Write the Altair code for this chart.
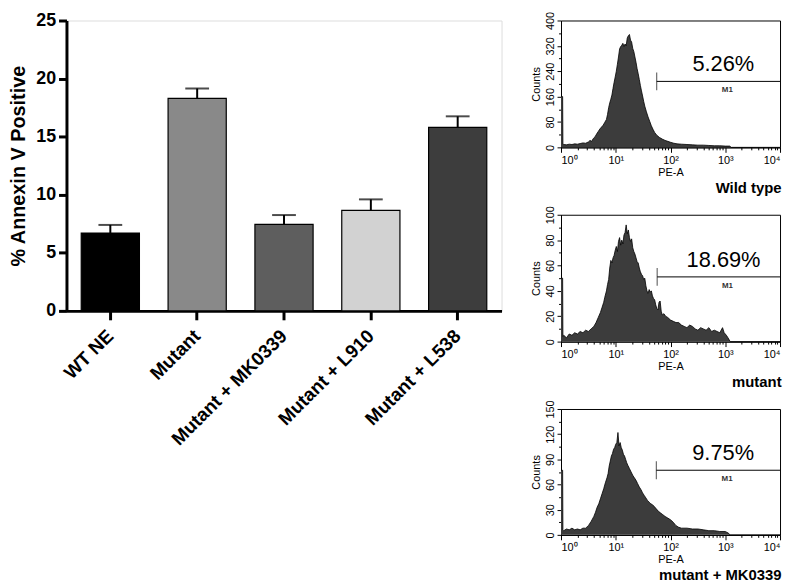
import altair as alt
import pandas as pd

FONT = "Liberation Sans"

# ---------------- Bar chart data ----------------
groups = ["WT NE", "Mutant", "Mutant + MK0339", "Mutant + L910", "Mutant + L538"]
means = [6.7, 18.3, 7.45, 8.65, 15.8]
sems = [0.7, 0.85, 0.8, 0.95, 0.95]
bar_colors = ["#000000", "#898989", "#5e5e5e", "#d2d2d2", "#3d3d3d"]

# ---------------- Histogram data (log10 PE-A position, counts) ----------------
wt_pos = [0.00, 0.03, 0.035, 0.05, 0.10, 0.15, 0.20, 0.25, 0.30, 0.35, 0.40, 0.45, 0.50, 0.53, 0.56, 0.59,
          0.62, 0.65, 0.68, 0.71, 0.74, 0.77, 0.80, 0.83, 0.85, 0.87, 0.89, 0.91, 0.93, 0.95, 0.97,
          0.99, 1.01, 1.03, 1.05, 1.07, 1.09, 1.11, 1.13, 1.15, 1.17, 1.19, 1.21, 1.23, 1.25, 1.27,
          1.29, 1.31, 1.33, 1.35, 1.37, 1.39, 1.41, 1.43, 1.45, 1.47, 1.49, 1.51, 1.53, 1.56, 1.59,
          1.62, 1.65, 1.68, 1.71, 1.75, 1.80, 1.85, 1.90, 1.95, 2.00, 2.06, 2.12, 2.20, 2.30, 2.40,
          2.50, 2.60, 2.70, 2.80, 2.90, 3.00, 3.08, 3.11, 4.00]
wt_counts = [160, 160, 10, 9, 8, 10, 9, 11, 10, 12, 14, 13, 17, 22, 19, 28,
             33, 42, 50, 58, 64, 70, 79, 88, 104, 125, 140, 152, 165, 186, 205,
             222, 240, 262, 285, 310, 318, 322, 328, 318, 326, 320, 345, 352, 356, 338,
             332, 312, 302, 285, 268, 248, 232, 214, 195, 178, 162, 145, 130, 112, 96,
             82, 68, 57, 47, 38, 31, 26, 22, 19, 16, 13, 11, 10, 9, 8,
             7, 7, 6, 5, 5, 4, 4, 0, 0]

mut_pos = [0.00, 0.03, 0.035, 0.05, 0.10, 0.15, 0.20, 0.25, 0.30, 0.35, 0.40, 0.45, 0.50, 0.55, 0.60, 0.64,
           0.68, 0.72, 0.75, 0.78, 0.80, 0.83, 0.85, 0.87, 0.89, 0.91, 0.93, 0.95, 0.97, 0.99, 1.01,
           1.03, 1.05, 1.07, 1.09, 1.11, 1.13, 1.15, 1.17, 1.19, 1.21, 1.23, 1.25, 1.27, 1.29, 1.31,
           1.33, 1.35, 1.37, 1.39, 1.41, 1.43, 1.45, 1.47, 1.49, 1.51, 1.53, 1.55, 1.57, 1.59, 1.61,
           1.63, 1.65, 1.67, 1.69, 1.71, 1.73, 1.75, 1.77, 1.79, 1.81, 1.83, 1.85, 1.88, 1.91, 1.95,
           2.00, 2.05, 2.10, 2.15, 2.20, 2.25, 2.30, 2.35, 2.40, 2.45, 2.50, 2.55, 2.60, 2.65, 2.70,
           2.75, 2.80, 2.85, 2.90, 2.95, 2.98, 3.02, 3.05, 3.09, 4.00]
mut_counts = [50, 50, 4, 5, 3, 6, 5, 7, 6, 8, 7, 9, 8, 10, 12, 15,
              19, 23, 27, 31, 35, 40, 45, 49, 58, 64, 62, 66, 68, 72, 75,
              71, 79, 82, 76, 80, 77, 84, 86, 92, 85, 88, 82, 79, 81, 74,
              71, 69, 66, 63, 62, 58, 55, 53, 52, 49, 50, 44, 40, 38, 41,
              39, 40, 36, 34, 33, 29, 26, 25, 31, 32, 24, 21, 22, 20, 19,
              17, 16, 15, 15, 13, 12, 11, 13, 12, 10, 9, 11, 10, 9, 11,
              8, 9, 8, 7, 11, 7, 5, 3, 0, 0]

mk_pos = [0.00, 0.03, 0.035, 0.05, 0.10, 0.15, 0.20, 0.25, 0.30, 0.35, 0.40, 0.45, 0.50, 0.55, 0.60, 0.63,
          0.66, 0.69, 0.72, 0.75, 0.78, 0.81, 0.84, 0.86, 0.88, 0.90, 0.92, 0.94, 0.96, 0.98, 1.00,
          1.02, 1.04, 1.06, 1.08, 1.10, 1.12, 1.14, 1.16, 1.18, 1.20, 1.22, 1.25, 1.28, 1.31, 1.34,
          1.37, 1.40, 1.43, 1.46, 1.49, 1.52, 1.55, 1.58, 1.61, 1.64, 1.67, 1.70, 1.74, 1.78, 1.82,
          1.86, 1.90, 1.95, 2.00, 2.05, 2.10, 2.15, 2.20, 2.30, 2.40, 2.50, 2.60, 2.70, 2.80, 2.90,
          3.00, 3.06, 3.08, 4.00]
mk_counts = [77, 77, 6, 5, 7, 6, 8, 6, 7, 6, 8, 8, 11, 16, 22, 27,
             33, 37, 43, 49, 55, 62, 68, 73, 82, 88, 94, 97, 102, 104, 108,
             110, 122, 106, 110, 104, 101, 96, 94, 90, 86, 83, 79, 75, 71, 68,
             65, 61, 57, 54, 50, 47, 44, 41, 39, 37, 36, 34, 31, 28, 26,
             24, 22, 20, 18, 15, 11, 9, 8, 8, 7, 7, 6, 5, 5, 4,
             4, 2, 0, 0]

panel_titles = ["Wild type", "mutant", "mutant + MK0339"]
panel_ymax = [400, 100, 150]
panel_ystep = [80, 20, 30]
gate_start = [56, 57, 55]
gate_end = [10000, 10000, 10000]
gate_level = [208, 51, 77]
gate_pct = ["5.26%", "18.69%", "9.75%"]

# ---------------- Bar chart ----------------
bar_df = pd.DataFrame({
    "group": groups,
    "mean": means,
    "upper": [m + s for m, s in zip(means, sems)],
    "color": bar_colors,
})

xbar = alt.X(
    "group:N", sort=groups,
    scale=alt.Scale(paddingInner=0.33, paddingOuter=0.17),
    axis=alt.Axis(title=None, labelAngle=315, labelFontSize=19, labelFontWeight="bold",
                  labelColor="black", domainWidth=3, domainColor="black", tickWidth=3,
                  tickColor="black", tickSize=9, labelPadding=13, labelFont=FONT),
)
ybar = alt.Y(
    "mean:Q", scale=alt.Scale(domain=[0, 25], nice=False),
    axis=alt.Axis(values=[0, 5, 10, 15, 20, 25], title="% Annexin V Positive",
                  titleFontSize=20, titleFontWeight="bold", titleColor="black", titleFont=FONT,
                  labelFontSize=18, labelFontWeight="bold", labelColor="black", labelFont=FONT,
                  domainWidth=3, domainColor="black", tickWidth=3, tickColor="black",
                  tickSize=8, labelPadding=3, titlePadding=7, grid=False),
)
base = alt.Chart(bar_df)
bars = base.mark_bar(stroke="black", strokeWidth=1.2).encode(
    x=xbar, y=ybar, color=alt.Color("color:N", scale=None))
err = base.mark_rule(color="black", strokeWidth=2).encode(
    x=alt.X("group:N", sort=groups), y="mean:Q", y2="upper:Q")
cap = base.mark_tick(orient="horizontal", size=24, thickness=2, color="black").encode(
    x=alt.X("group:N", sort=groups), y="upper:Q")
bar_chart = alt.layer(err, bars, cap).properties(width=439, height=293)

# ---------------- Histogram panels ----------------
majors = [1, 10, 100, 1000, 10000]
minors = [m * d for d in [1, 10, 100, 1000] for m in range(2, 10)]
sup_expr = ("datum.value == 1 ? '10\u2070' : datum.value == 10 ? '10\u00b9' : "
            "datum.value == 100 ? '10\u00b2' : datum.value == 1000 ? '10\u00b3' : '10\u2074'")


def hist_panel(pos, counts, i, w, h):
    df = pd.DataFrame({"pe": [10 ** p for p in pos], "count": counts})
    xs = alt.Scale(type="log", domain=[1, 10000], nice=False)
    ys = alt.Scale(domain=[0, panel_ymax[i]], nice=False)
    yvals = list(range(0, panel_ymax[i] + 1, panel_ystep[i]))
    yminor = [v + panel_ystep[i] / 2 for v in yvals[:-1]]
    area = alt.Chart(df).mark_area(
        color="#3c3c3c", opacity=1, fillOpacity=1, interpolate="linear",
        line={"color": "black", "strokeWidth": 0.8}
    ).encode(
        x=alt.X("pe:Q", scale=xs, axis=alt.Axis(
            values=majors, labelExpr=sup_expr, title="PE-A", titleFontSize=11,
            titleFontWeight="normal", titlePadding=1, labelFontSize=11, labelColor="black",
            titleColor="black", tickSize=5, tickColor="black", domainColor="black",
            labelPadding=2, grid=False, orient="bottom", labelFont=FONT, titleFont=FONT)),
        y=alt.Y("count:Q", scale=ys, axis=alt.Axis(
            values=yvals, title="Counts", titleFontSize=11, titleFontWeight="normal",
            titlePadding=3, labelFontSize=11, labelAngle=270, labelColor="black",
            titleColor="black", tickSize=4, tickColor="black", domainColor="black",
            labelPadding=2, grid=False, orient="left", labelFont=FONT, titleFont=FONT)),
    )
    gdf = pd.DataFrame({
        "start": [gate_start[i]], "end": [gate_end[i]], "level": [gate_level[i]],
        "mid": [(gate_start[i] * gate_end[i]) ** 0.5], "pct": [gate_pct[i]], "m": ["M1"],
    })
    gbase = alt.Chart(gdf)
    gate = gbase.mark_rule(color="black", strokeWidth=1).encode(
        x=alt.X("start:Q", scale=xs, axis=alt.Axis(
            values=minors, labels=False, title=None, tickSize=2.5, tickColor="black",
            domain=False, grid=False, orient="bottom")),
        x2="end:Q",
        y=alt.Y("level:Q", scale=ys, axis=alt.Axis(
            values=yminor, labels=False, title=None, tickSize=2.5, tickColor="black",
            domain=False, grid=False, orient="left")),
    )
    gtick = gbase.mark_tick(orient="vertical", size=18, thickness=1, color="black").encode(
        x=alt.X("start:Q", scale=xs, axis=None), y=alt.Y("level:Q", scale=ys, axis=None))
    pct = gbase.mark_text(fontSize=22, dy=-17, dx=5, font=FONT, color="black").encode(
        x=alt.X("mid:Q", scale=xs, axis=None), y=alt.Y("level:Q", scale=ys, axis=None),
        text="pct:N")
    m1 = gbase.mark_text(fontSize=8, dy=9, dx=9, font=FONT, fontWeight="bold", color="#333333").encode(
        x=alt.X("mid:Q", scale=xs, axis=None), y=alt.Y("level:Q", scale=ys, axis=None),
        text="m:N")
    return alt.layer(area, gate, gtick, pct, m1).resolve_axis(
        x="independent", y="independent"
    ).properties(
        width=w, height=h,
        view=alt.ViewBackground(stroke="black", strokeWidth=1),
        title=alt.TitleParams(text=panel_titles[i], orient="bottom", anchor="end",
                              fontSize=15, fontWeight="bold", font=FONT, color="black", offset=4),
    )


h1 = hist_panel(wt_pos, wt_counts, 0, 221, 128)
h2 = hist_panel(mut_pos, mut_counts, 1, 221, 128)
h3 = hist_panel(mk_pos, mk_counts, 2, 221, 127)

right = alt.vconcat(h1, h2, h3, spacing=8)
chart = alt.hconcat(bar_chart, right, spacing=27).properties(padding=0).configure_view(
    stroke="transparent"
).configure(font=FONT)

chart.save("out.html", embed_options={"renderer": "svg", "actions": False})
